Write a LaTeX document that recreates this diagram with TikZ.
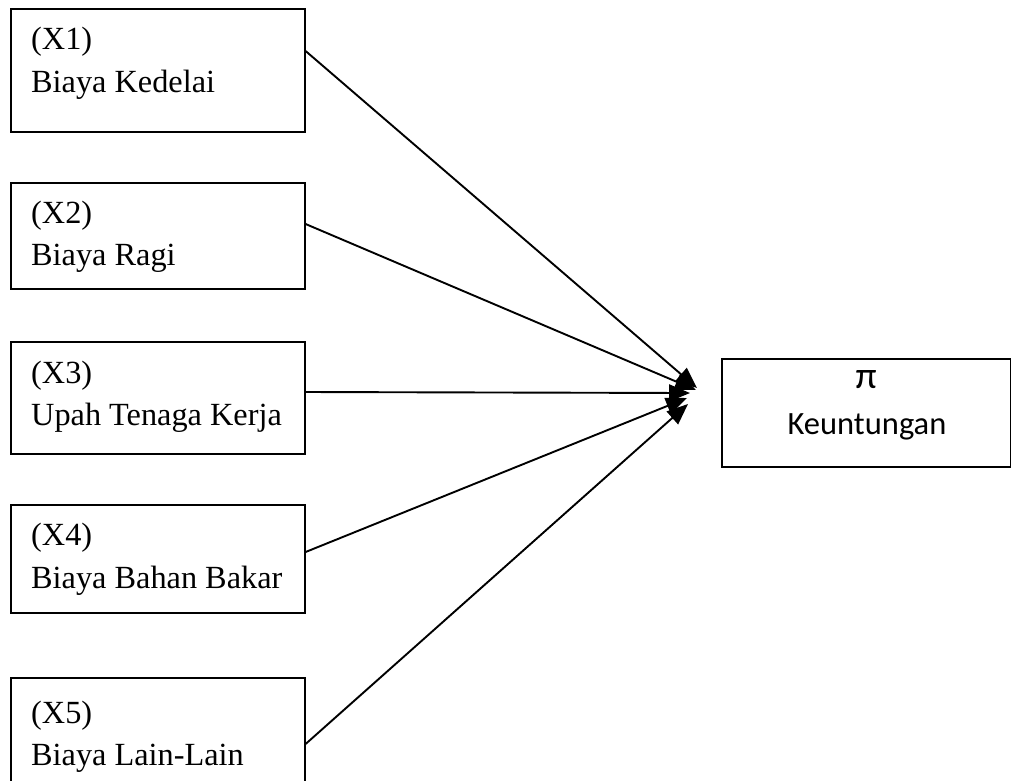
\documentclass[tikz,border=0pt]{standalone}
\usepackage{fontspec}
\setmainfont{Liberation Serif}
\newfontfamily\calib{Carlito}
\usetikzlibrary{arrows.meta}
\begin{document}
\begin{tikzpicture}[x=1pt,y=-1pt,
  box/.style={draw, line width=1.6pt, anchor=north west, inner sep=0pt, minimum width=294pt},
  lbl/.style={anchor=base west, inner sep=0pt, font=\fontsize{32.3}{38}\selectfont},
  plbl/.style={anchor=base, inner sep=0pt, font=\calib\fontsize{32.5}{38}\selectfont},
  conn/.style={-{Triangle[length=21pt,width=17pt]}, line width=1.9pt}]
\useasboundingbox (0,0) rectangle (1011,780);

% input boxes
\node[box, minimum height=123pt] (x1) at (10,8) {};
\node[box, minimum height=106pt] (x2) at (10,182) {};
\node[box, minimum height=112pt] (x3) at (10,341) {};
\node[box, minimum height=108pt] (x4) at (10,504) {};
\node[box, minimum height=150pt] (x5) at (10,677) {};

\node[lbl] (x1a) at (31,49) {(X1)};
\node[lbl] (x1b) at (31,92) {Biaya Kedelai};
\node[lbl] (x2a) at (31,223) {(X2)};
\node[lbl] (x2b) at (31,265) {Biaya Ragi};
\node[lbl] (x3a) at (31,383) {(X3)};
\node[lbl] (x3b) at (31,425) {Upah Tenaga Kerja};
\node[lbl] (x4a) at (31,545) {(X4)};
\node[lbl] (x4b) at (31,588) {Biaya Bahan Bakar};
\node[lbl] (x5a) at (31,723) {(X5)};
\node[lbl] (x5b) at (31,765) {Biaya Lain-Lain};

% output box
\node[box, minimum width=289pt, minimum height=108pt] (pi) at (721,358) {};
\node[plbl, font=\calib\fontsize{38}{40}\selectfont] (pisym) at (866,388) {π};
\node[plbl] (pitxt) at (867,434) {Keuntungan};

% arrow tips
\coordinate (t1) at (697,388);
\coordinate (t2) at (696,390);
\coordinate (t3) at (690,393);
\coordinate (t4) at (687,398);
\coordinate (t5) at (688,404);

\draw[conn] ([yshift=-43pt]x1.north east) -- (t1);
\draw[conn] ([yshift=-42pt]x2.north east) -- (t2);
\draw[conn] ([yshift=-51pt]x3.north east) -- (t3);
\draw[conn] ([yshift=-48pt]x4.north east) -- (t4);
\draw[conn] ([yshift=-67pt]x5.north east) -- (t5);
\end{tikzpicture}
\end{document}
